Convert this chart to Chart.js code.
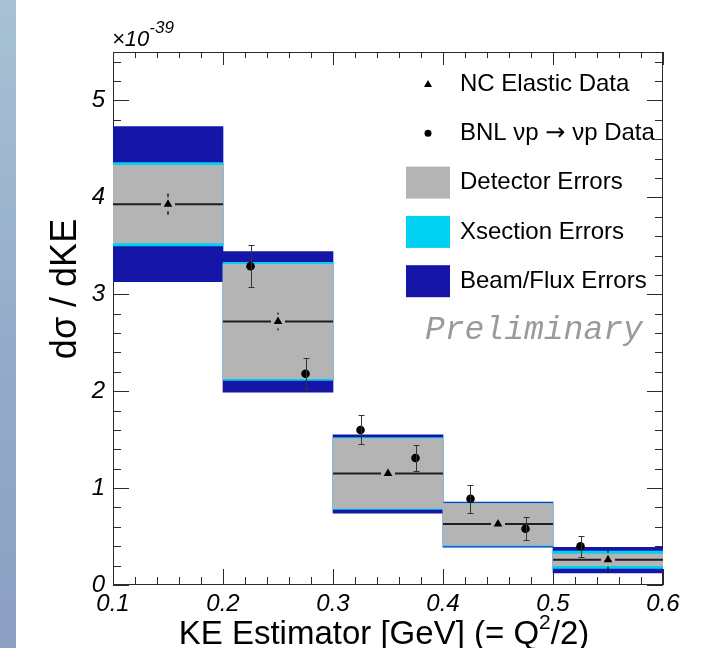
<!DOCTYPE html>
<html>
<head>
<meta charset="utf-8">
<title>NC Elastic dσ/dKE</title>
<script src="https://cdn.jsdelivr.net/npm/chart.js@4.4.1/dist/chart.umd.min.js"></script>
<style>
  html, body { margin: 0; padding: 0; background: #fff; }
  #wrap {
    position: relative;
    width: 703px;
    height: 648px;
    background: linear-gradient(#a8c2d4, #93abc9 55%, #8c9fc3) no-repeat 0 0 / 16px 100%, #fff;
  }
</style>
</head>
<body>
<div id="wrap"><canvas id="ke-chart"></canvas></div>
<script>
// KE estimator bins [GeV]
const binLow = [0.1, 0.2, 0.3, 0.4, 0.5];
const binHigh = [0.2, 0.3, 0.4, 0.5, 0.6];
const binCenter = [0.15, 0.25, 0.35, 0.45, 0.55];

// NC elastic data (x 1e-39)
const ncValue = [3.93, 2.72, 1.15, 0.63, 0.26];
const ncError = [0.11, 0.09, 0.04, 0.03, 0.13];

// error bands, low / high edge per bin
const detectorLow = [3.53, 2.13, 0.79, 0.41, 0.20];
const detectorHigh = [4.33, 3.31, 1.51, 0.84, 0.32];
const xsectionLow = [3.50, 2.11, 0.78, 0.40, 0.17];
const xsectionHigh = [4.36, 3.33, 1.52, 0.845, 0.35];
const beamLow = [3.13, 1.99, 0.74, 0.39, 0.125];
const beamHigh = [4.73, 3.44, 1.55, 0.855, 0.39];

// BNL vp -> vp points
const bnlKE = [0.225, 0.275, 0.325, 0.375, 0.425, 0.475, 0.525];
const bnlValue = [3.29, 2.18, 1.60, 1.31, 0.89, 0.58, 0.40];
const bnlError = [0.22, 0.16, 0.15, 0.13, 0.145, 0.12, 0.11];

// axis labels
const xTicks = [0.1, 0.2, 0.3, 0.4, 0.5, 0.6];
const yTicks = [0, 1, 2, 3, 4, 5];

const GRAY = '#b4b4b4';
const CYAN = '#00d0f2';
const BLUE = '#1515a8';
const INK = '#1e1e1e';
const SANS = "'Liberation Sans', Arial, Helvetica, sans-serif";

function band(label, low, high, color, order) {
  return {
    type: 'bar',
    label,
    data: binCenter.map((x, i) => ({ x, y: [low[i], high[i]] })),
    backgroundColor: color,
    borderWidth: 0,
    grouped: false,
    barPercentage: 1,
    categoryPercentage: 1,
    order,
  };
}

/**
 * ROOT style frame: box round the plot, ticks pointing inwards.
 * Drawn before the datasets so the bands sit on top of it.
 */
const frameTicks = {
  id: 'frameTicks',
  beforeDatasetsDraw(chart) {
    const { ctx, chartArea: a, scales: { x, y } } = chart;
    ctx.save();
    ctx.strokeStyle = '#2a2a2a';
    ctx.lineWidth = 1;
    ctx.beginPath();

    const xStep = (xTicks[1] - xTicks[0]) / 5;
    for (let i = 0; x.min + i * xStep <= x.max + 1e-9; i++) {
      const px = Math.round(x.getPixelForValue(x.min + i * xStep)) + 0.5;
      const major = i % 5 === 0;
      ctx.moveTo(px, a.bottom);
      ctx.lineTo(px, a.bottom - (major ? 16 : 8));
      ctx.moveTo(px, a.top);
      ctx.lineTo(px, a.top + (major ? 13 : 6));
    }

    const yStep = (yTicks[1] - yTicks[0]) / 5;
    for (let i = 0; y.min + i * yStep <= y.max + 1e-9; i++) {
      const py = Math.round(y.getPixelForValue(y.min + i * yStep)) + 0.5;
      const major = i % 5 === 0;
      ctx.moveTo(a.left, py);
      ctx.lineTo(a.left + (major ? 16 : 8), py);
      ctx.moveTo(a.right, py);
      ctx.lineTo(a.right - (major ? 16 : 8), py);
    }
    ctx.stroke();
    ctx.strokeRect(a.left + 0.5, a.top + 0.5, a.right - a.left - 1, a.bottom - a.top - 1);
    ctx.restore();
  },

  afterDatasetsDraw(chart) {
    const { ctx, scales: { x, y } } = chart;
    ctx.save();
    ctx.strokeStyle = INK;

    // NC: line across the bin, error bar, both with a gap round the marker
    binCenter.forEach((c, i) => {
      const px = x.getPixelForValue(c);
      const py = y.getPixelForValue(ncValue[i]);
      const gap = 7;
      ctx.lineWidth = 2;
      ctx.beginPath();
      ctx.moveTo(x.getPixelForValue(binLow[i]), py);
      ctx.lineTo(px - gap, py);
      ctx.moveTo(px + gap, py);
      ctx.lineTo(x.getPixelForValue(binHigh[i]), py);
      ctx.stroke();

      const top = y.getPixelForValue(ncValue[i] + ncError[i]);
      const bottom = y.getPixelForValue(ncValue[i] - ncError[i]);
      ctx.lineWidth = 1.5;
      ctx.beginPath();
      if (py - top > gap) {
        ctx.moveTo(px, top);
        ctx.lineTo(px, py - gap);
        ctx.moveTo(px, py + gap);
        ctx.lineTo(px, bottom);
      }
      ctx.stroke();
    });

    // BNL: error bars with small caps
    ctx.lineWidth = 1;
    ctx.strokeStyle = '#333';
    ctx.beginPath();
    bnlKE.forEach((k, i) => {
      const px = Math.round(x.getPixelForValue(k)) + 0.5;
      const top = Math.round(y.getPixelForValue(bnlValue[i] + bnlError[i])) + 0.5;
      const bottom = Math.round(y.getPixelForValue(bnlValue[i] - bnlError[i])) + 0.5;
      ctx.moveTo(px, top);
      ctx.lineTo(px, bottom);
      ctx.moveTo(px - 3, top);
      ctx.lineTo(px + 3, top);
      ctx.moveTo(px - 3, bottom);
      ctx.lineTo(px + 3, bottom);
    });
    ctx.stroke();
    ctx.restore();
  },

  afterDraw(chart) {
    const { ctx, chartArea: a } = chart;
    ctx.save();
    ctx.fillStyle = '#000';

    // exponent above the y axis
    ctx.textBaseline = 'alphabetic';
    ctx.textAlign = 'left';
    ctx.font = `italic 22px ${SANS}`;
    ctx.fillText('×10', a.left - 1, 46);
    const w = ctx.measureText('×10').width;
    ctx.font = `italic 17px ${SANS}`;
    ctx.fillText('-39', a.left - 1 + w, 33);

    // y title
    ctx.save();
    ctx.translate(76, 289);
    ctx.rotate(-Math.PI / 2);
    ctx.textAlign = 'center';
    ctx.font = `36px ${SANS}`;
    ctx.fillText('dσ / dKE', 0, 0);
    ctx.restore();

    // x title with Q^2
    const big = `33px ${SANS}`;
    const small = `21px ${SANS}`;
    const p1 = 'KE Estimator [GeV] (= Q';
    const p2 = '/2)';
    ctx.font = big;
    const w1 = ctx.measureText(p1).width;
    const w3 = ctx.measureText(p2).width;
    ctx.font = small;
    const w2 = ctx.measureText('2').width;
    const tx = (a.left + a.right) / 2 - 4 - (w1 + w2 + w3) / 2;
    ctx.font = big;
    ctx.fillText(p1, tx, 644);
    ctx.font = small;
    ctx.fillText('2', tx + w1, 629);
    ctx.font = big;
    ctx.fillText(p2, tx + w1 + w2, 644);

    // legend
    const rowY = (i) => 84 + i * 49.3;
    const markX = 428;
    const textX = 460;
    ctx.font = `24px ${SANS}`;
    ctx.textBaseline = 'middle';

    ctx.beginPath();
    ctx.moveTo(markX, rowY(0) - 4);
    ctx.lineTo(markX + 4, rowY(0) + 3);
    ctx.lineTo(markX - 4, rowY(0) + 3);
    ctx.closePath();
    ctx.fill();
    ctx.fillText('NC Elastic Data', textX, rowY(0));

    ctx.beginPath();
    ctx.arc(markX, rowY(1), 3.5, 0, Math.PI * 2);
    ctx.fill();
    // arrow in a wider glyph, like the original
    let lx = textX;
    ctx.fillText('BNL νp ', lx, rowY(1));
    lx += ctx.measureText('BNL νp ').width;
    ctx.font = `24px 'DejaVu Sans', ${SANS}`;
    ctx.fillText('→', lx, rowY(1));
    lx += ctx.measureText('→').width;
    ctx.font = `24px ${SANS}`;
    ctx.fillText(' νp Data', lx, rowY(1));

    [['Detector Errors', GRAY], ['Xsection Errors', CYAN], ['Beam/Flux Errors', BLUE]].forEach(([label, color], k) => {
      const ry = rowY(k + 2);
      ctx.fillStyle = color;
      ctx.fillRect(406, ry - 16, 44, 32);
      ctx.fillStyle = '#000';
      ctx.fillText(label, textX, ry);
    });

    ctx.font = `italic 33px 'Liberation Mono', 'Courier New', monospace`;
    ctx.fillStyle = '#9a9a9a';
    ctx.fillText('Preliminary', 425, rowY(5));
    ctx.restore();
  },
};

const tickFont = { family: SANS, size: 24, style: 'italic' };

new Chart(document.getElementById('ke-chart'), {
  type: 'bar',
  data: {
    datasets: [
      {
        type: 'scatter',
        label: 'NC Elastic Data',
        data: binCenter.map((x, i) => ({ x, y: ncValue[i] })),
        pointStyle: 'triangle',
        pointRadius: 5,
        backgroundColor: '#000',
        borderColor: '#000',
        borderWidth: 0,
        order: 1,
      },
      {
        type: 'scatter',
        label: 'BNL νp → νp Data',
        data: bnlKE.map((x, i) => ({ x, y: bnlValue[i] })),
        pointStyle: 'circle',
        pointRadius: 4.3,
        backgroundColor: '#000',
        borderColor: '#000',
        borderWidth: 0,
        order: 1,
      },
      band('Detector Errors', detectorLow, detectorHigh, GRAY, 3),
      band('Xsection Errors', xsectionLow, xsectionHigh, CYAN, 4),
      band('Beam/Flux Errors', beamLow, beamHigh, BLUE, 5),
    ],
  },
  options: {
    responsive: true,
    maintainAspectRatio: false,
    animation: false,
    events: [],
    layout: { padding: { top: 52, right: 40, left: 0, bottom: 0 } },
    plugins: {
      legend: { display: false },
      tooltip: { enabled: false },
    },
    scales: {
      x: {
        type: 'linear',
        min: 0.1,
        max: 0.6,
        offset: false,
        grid: { display: false, drawTicks: false, offset: false },
        border: { display: false },
        afterBuildTicks: (s) => { s.ticks = xTicks.map((value) => ({ value })); },
        afterFit: (s) => { s.height = 63; },
        ticks: {
          padding: 5,
          color: '#000',
          font: tickFont,
          maxRotation: 0,
          autoSkip: false,
          callback: (v) => Number(v).toFixed(1),
        },
      },
      y: {
        type: 'linear',
        min: 0,
        max: 5.5,
        grid: { display: false, drawTicks: false },
        border: { display: false },
        afterBuildTicks: (s) => { s.ticks = yTicks.map((value) => ({ value })); },
        afterFit: (s) => { s.width = 113; },
        ticks: {
          padding: 8,
          color: '#000',
          font: tickFont,
          autoSkip: false,
          callback: (v) => String(v),
        },
      },
    },
  },
  plugins: [frameTicks],
});
</script>
</body>
</html>
